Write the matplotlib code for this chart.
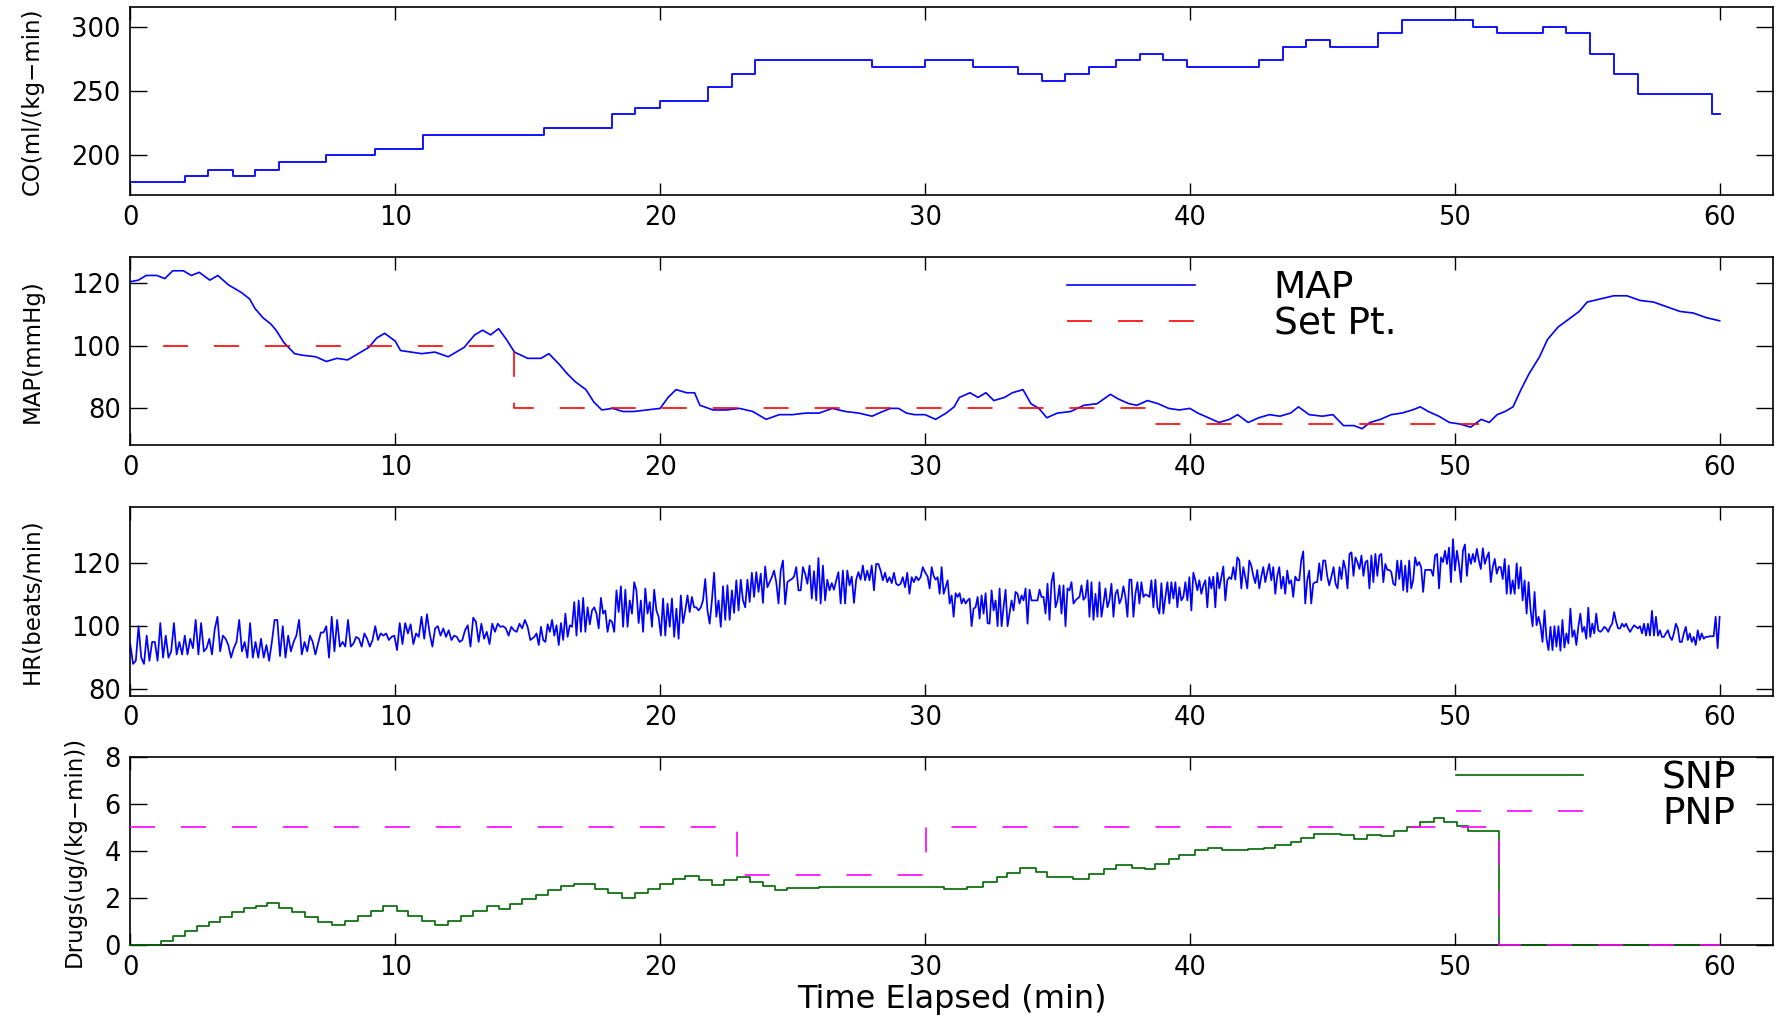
import numpy as np
import matplotlib.pyplot as plt

plt.rcParams['font.family'] = ['DejaVu Sans']
plt.rcParams['lines.scale_dashes'] = False

# --- cardiac output (step changes) ---
co_t = [0, 2.05, 2.92, 3.87, 4.69, 5.6, 7.4, 9.24, 11.04, 15.6,
        18.2, 19.07, 19.98, 21.8, 22.7, 23.6, 28.0, 30.0, 31.8, 33.5,
        34.4, 35.3, 36.2, 37.2, 38.1, 39.0, 39.9, 42.6, 43.5, 44.4,
        45.3, 47.1, 48.0, 50.7, 51.6, 53.35, 54.2, 55.1, 56.0, 56.9,
        59.7, 60.0]
co_v = [179, 184, 189, 184, 189, 195, 200, 205, 216, 221,
        232, 237, 242, 253, 263, 274, 268.5, 274, 268.5, 263,
        258, 263, 268.5, 274, 279, 274, 268.5, 274, 284, 289.5,
        284, 295, 305.5, 300, 295, 300, 295, 279, 263.5, 247.5,
        232, 232]

# --- mean arterial pressure ---
map_t = [0, 0.3, 0.6, 1.0, 1.3, 1.6, 2.0, 2.3, 2.6, 3.0, 3.3, 3.7, 4.0, 4.2, 4.5, 4.7,
         5.0, 5.3, 5.5, 5.8, 6.2, 6.5, 7.0, 7.4, 7.8, 8.2, 8.6, 9.0, 9.3, 9.6,
         10.0, 10.2, 10.6, 11.0, 11.5, 12.0, 12.2, 12.6, 13.0, 13.3, 13.6, 13.9,
         14.2, 14.5, 15.0, 15.5, 15.8, 16.2, 16.5, 16.8, 17.2, 17.5, 17.8, 18.2,
         18.6, 19.0, 19.5, 20.0, 20.3, 20.6, 21.0, 21.3, 21.5, 22.0, 22.5, 23.0,
         23.5, 24.0, 24.5, 25.0, 25.5, 26.0, 26.5, 27.0, 27.5, 28.0, 28.4, 28.7,
         29.0, 29.3, 29.6, 30.0, 30.4, 30.8, 31.1, 31.3, 31.7, 32.0, 32.3, 32.6,
         33.0, 33.3, 33.7, 34.0, 34.3, 34.6, 35.0, 35.5, 36.0, 36.5, 37.0, 37.3,
         37.7, 38.0, 38.4, 38.8, 39.2, 39.6, 40.0, 40.3, 40.7, 41.1, 41.5, 41.8,
         42.2, 42.6, 43.0, 43.4, 43.8, 44.1, 44.5, 45.0, 45.4, 45.8, 46.2, 46.5,
         46.8, 47.2, 47.6, 48.0, 48.4, 48.7, 49.0, 49.4, 49.8, 50.2, 50.6, 51.0,
         51.3, 51.6, 51.9, 52.2, 52.5, 52.8, 53.2, 53.5, 53.9, 54.3, 54.7, 55.0,
         55.5, 56.0, 56.5, 57.0, 57.5, 58.0, 58.5, 59.0, 59.5, 60.0]
map_v = [120.5, 121, 122.5, 122.5, 121.5, 124, 124, 122.5, 123.5, 121, 122.5, 119.5, 118, 117, 115, 112,
         109, 107, 105, 101, 97.5, 97, 96.5, 95, 96, 95.5, 97.5, 99.5, 102.5, 104,
         101.5, 98.5, 98, 97.5, 98, 96.5, 97.5, 99.5, 103.5, 105, 103.5, 105.5,
         102, 98, 96, 96, 97.5, 94, 91, 88.5, 86, 82, 79.5, 80,
         79, 79, 79.5, 80, 83.5, 86, 85, 85, 81, 79.5, 79.5, 80,
         79, 76.5, 78, 78, 78.5, 78.5, 80, 79, 78.5, 77.5, 79, 80,
         80, 78.5, 78, 78, 76.5, 78.5, 80.5, 83.5, 85, 83.5, 85, 82.5,
         83.5, 85, 86, 81.5, 80, 77, 78.5, 79, 81, 81.5, 84.5, 83,
         81.5, 81, 82.5, 81.5, 80, 79.5, 80, 78.5, 77, 75.5, 76.5, 78,
         75.5, 77, 78, 77.5, 78.5, 80.5, 78, 77.5, 78, 74.5, 74.5, 73.5,
         75.5, 76.5, 78, 78.5, 79.5, 80.5, 79, 77.5, 75.5, 75, 74, 76.5,
         75.5, 78, 79, 80.5, 86, 91, 96.5, 102, 106, 108.5, 111, 114,
         115, 116, 116, 114.5, 114, 112.5, 111, 110.5, 109, 108]

# set point
sp_t = [1.25, 14.5, 38.4, 50.9]
sp_v = [100, 80, 75, 75]

# --- heart rate, read in four pieces ---
hr_a = [94, 88, 89, 100, 90, 88, 97, 89, 95, 95,
        89, 101, 90, 97, 90, 92, 101, 91, 95, 91,
        97, 91, 96, 93, 102, 91, 101, 92, 93, 96,
        91, 99, 103, 92, 97, 96, 94, 90, 93, 95,
        102, 92, 95, 90, 101, 90, 95, 90, 96, 90,
        94, 89, 95, 102, 102, 90.5, 100, 90, 97, 92,
        95, 97, 102, 91, 95, 92, 97, 95, 91, 94.5,
        98, 98, 100, 90, 103, 92, 102, 93.5, 95, 93.5,
        102, 93.5, 94.5, 96.6, 96, 93.5, 97.7, 96, 93.5, 95.6,
        100, 95.6, 97.7, 97, 97.7, 95.6, 96.6, 97, 92.4, 101,
        94.3, 101, 97.7, 100.6, 94.3, 97.7, 96.6, 103, 96, 103.8,
        97.7, 93.5, 99.3, 100, 97, 99.3, 96.6, 98.7, 95.6, 97,
        96.6, 95, 95.6, 98.7, 100.3, 93.5, 102.7, 101.4, 95, 100.8,
        96, 98.2, 94.3, 100.8, 98.2, 100.8, 99.8, 100, 99.3, 97,
        99.8, 98.7, 98.2, 100.8, 99.3, 102, 99.8, 95.6]
hr_b = [96.6, 97.7, 94, 99.8, 95.6, 95, 100.6, 98.2, 102, 97,
        100.3, 94, 101, 95.6, 104, 96.6, 100.3, 99.8, 107.7, 97,
        108.2, 98.2, 109, 98.2, 106, 100.6, 105, 106, 104, 99.3,
        109, 104, 105, 98.2, 102, 101.4, 98.2, 111.4, 104.5, 112.7,
        99.8, 111.6, 99.8, 108.2, 104, 114, 111.4, 101, 108.2, 98.2,
        112, 104, 107.7, 99.8, 111.6, 105, 103, 97, 108.8, 97,
        107.2, 99.8, 108.8, 96.6, 105.6, 96, 109.8, 101, 105, 109.8,
        104.5, 109.3, 106, 106, 105, 106, 108.2, 115, 105, 100.8,
        108.2, 117, 103, 108.2, 99.8, 112.7, 102, 113, 102, 111.4,
        104.2, 114.6, 105, 114.8, 108.2, 106, 114.8, 107.7, 117, 109.3,
        117.2, 110.9, 116.7, 107.4, 119, 112.4, 114, 115.6, 117.7, 114,
        107.2, 117.7, 120.9, 107, 114, 114.6, 115, 115.8, 118.8, 111.4,
        111.4, 118.8, 116.7, 113.5, 119.3, 108.8, 117.5, 108.2, 121.7, 107.2,
        119.3, 108.2, 114.8, 111.4, 113.7, 111.6, 114.6, 117.2, 107.2, 117.7,
        107.2, 117.7, 113, 115.8, 107.4, 114.8, 117.2, 114.8, 119.3, 114.6,
        117.7, 114.6, 119.3, 111.4, 119.8, 119.8, 117.7, 114.6, 117, 114,
        115.6, 113.7, 117, 113.5, 113, 113.5, 115.6, 112.4, 117, 110.3,
        115.6, 114, 115.8, 114.6, 115.6, 118.8, 117.2]
hr_c = [115.8, 112, 118.8, 116, 114.8, 115.6, 110.3, 118.8, 110.3, 112.4,
        114.6, 107.2, 109.8, 103, 110.5, 109.3, 110.5, 107.2, 108.8, 107.2,
        108.2, 108.8, 100, 105.6, 106, 109.3, 102.4, 109.8, 104, 110.5,
        101, 100.8, 111.4, 105, 108.2, 100, 112, 100, 106, 111.6,
        100, 104, 108.2, 105, 110.9, 110.3, 107.2, 109.8, 108.2, 112,
        100.8, 111.6, 108.2, 108.2, 108.2, 108.2, 111.6, 109.3, 109.3, 104,
        113.5, 102, 114, 117, 106, 108.2, 113, 104, 113, 100,
        112, 111.4, 114, 107.2, 108.2, 108.8, 109.3, 113, 108.4, 109.3,
        114.6, 103, 114, 102, 110.3, 103, 114, 103, 107.2, 112,
        106, 108.2, 113.5, 103, 110.3, 111.6, 107.2, 108.8, 112.7, 109.3,
        103, 114.8, 114.8, 103, 110.3, 114, 107.2, 114, 109.3, 110.1,
        109.8, 109.3, 114.6, 106, 114.8, 106, 104, 113.7, 104, 109.3,
        114, 107.2, 114, 108.8, 114, 106, 112.4, 108.2, 109.3, 114,
        108.2, 115.6, 105, 117, 114.6, 111.4, 114.6, 110.3, 113, 114.6,
        106, 115.6, 112, 115.8, 106, 117, 112, 115.6, 119, 108.2,
        114.6, 115.6, 115, 118.8, 114.8, 121.9, 121, 112, 118.8, 115.6,
        112, 120.9, 119.3, 116, 113.7, 117.9, 112, 115.8, 118.8, 114,
        117.2, 119.8, 114.6, 118.8, 110.3, 116, 118.8, 112, 115.8, 110.3,
        117.7, 113.5, 114.6, 109.3, 115.8, 114.6, 114.6, 120.9, 123.8, 107.2,
        114.6, 117.7, 107.2, 113.5, 114, 114, 120, 114.6, 120.9, 120.9,
        116, 113]
hr_d = [116, 118.8, 113.5, 112, 118.8, 115, 120.9, 118.2, 112, 123,
        123.5, 116, 121.9, 120.4, 118.2, 122.5, 116, 120.4, 120.9, 112,
        122.5, 114, 123, 116, 122.5, 123, 114, 119.8, 117.9, 117.9,
        117.2, 113.5, 113, 120.9, 115, 120.9, 111.4, 119.3, 110.9, 120.9,
        112, 114.6, 121.9, 119.3, 120.4, 118.8, 110.9, 117.9, 117.9, 117.9,
        117.9, 116, 122.5, 123, 112, 121.9, 120.4, 124, 119.8, 125,
        114, 127.7, 117.7, 124, 119.8, 114, 124, 126, 116, 123,
        119.8, 123, 120.4, 124.6, 120.9, 118.2, 124.8, 119.8, 121.9, 123.5,
        114, 118.8, 121.4, 116.7, 118.8, 118.8, 115, 121.4, 110.3, 119.3,
        110.3, 114.6, 110.3, 120, 112, 118.8, 108.2, 114.6, 104, 114,
        105, 100, 110.9, 100.3, 103, 100.3, 95, 105, 96, 92.4,
        99.8, 92.4, 100, 93.5, 100, 92.2, 102, 93.2, 97.7, 94.5,
        105.6, 96.6, 98.7, 94, 99.8, 104, 98.2, 99.8, 96, 105.9,
        96.6, 100.8, 97.7, 104, 98.7, 98.2, 98.7, 99.8, 99.3, 98.2,
        99.8, 100.8, 104.5, 101.4, 99.3, 99.3, 100.8, 99.8, 100.8, 99.3,
        98.2, 99.3, 100.3, 99.8, 99.3, 100, 97.7, 100.8, 97, 100.8,
        97, 104.9, 97, 103, 97, 98.7, 96.6, 96.6, 97.7, 98.7,
        96.6, 95.6, 97.7, 100.8, 99.3, 95, 95, 97.7, 99.8, 95.6,
        97.7, 95, 96.6, 94, 98.7, 95.6, 97.7, 96, 96.6, 96.6,
        96.8, 96.8, 96.8, 103, 93, 103]
hr_span = [(0, 15.1), (15.25, 30.0), (30.1, 45.26), (45.35, 60.0)]

# --- drug infusion rates ---
snp_t = [0, 1.15, 1.6, 2.05, 2.5, 2.95, 3.4, 3.85, 4.3, 4.75,
         5.15, 5.6, 6.1, 6.6, 7.1, 7.6, 8.1, 8.6, 9.1, 9.55,
         10.05, 10.5, 11.0, 11.5, 12.0, 12.5, 12.95, 13.45, 13.9, 14.35,
         14.8, 15.3, 15.75, 16.25, 16.75, 17.55, 18.05, 18.55, 19.05, 19.55,
         20.0, 20.5, 20.95, 21.45, 21.95, 22.4, 22.9, 23.4, 23.9, 24.35,
         24.8, 26.0, 28.3, 30.7, 31.6, 32.2, 32.7, 33.1, 33.6, 34.2,
         34.6, 35.6, 36.2, 36.75, 37.2, 37.8, 38.3, 38.7, 39.2, 39.6,
         40.2, 40.7, 41.2, 42.2, 42.8, 43.2, 43.8, 44.2, 44.7, 45.7,
         46.2, 46.7, 47.2, 47.7, 48.2, 48.7, 49.2, 49.6, 50.1, 50.5,
         51.0, 51.66, 60]
snp_v = [0, 0.2, 0.4, 0.6, 0.8, 1.0, 1.2, 1.4, 1.6, 1.65,
         1.8, 1.6, 1.4, 1.2, 1.0, 0.85, 1.05, 1.25, 1.45, 1.65,
         1.45, 1.25, 1.05, 0.85, 1.05, 1.25, 1.45, 1.65, 1.55, 1.75,
         1.95, 2.15, 2.35, 2.5, 2.6, 2.4, 2.2, 2.0, 2.2, 2.4,
         2.6, 2.8, 2.95, 2.75, 2.55, 2.75, 2.9, 2.7, 2.5, 2.35,
         2.45, 2.47, 2.46, 2.39, 2.46, 2.67, 2.88, 3.06, 3.26, 3.09,
         2.88, 2.81, 3.02, 3.23, 3.41, 3.3, 3.23, 3.44, 3.65, 3.83,
         4.03, 4.14, 4.04, 4.07, 4.14, 4.24, 4.39, 4.56, 4.73, 4.7,
         4.49, 4.67, 4.63, 4.84, 5.0, 5.23, 5.4, 5.23, 5.05, 4.84,
         4.84, 0, 0]
pnp_t = [0, 22.9, 30.05, 51.66, 60]
pnp_v = [5, 3, 5, 0, 0]

xticks = [0, 10, 20, 30, 40, 50, 60]
dash = (0, (18, 18.7))


def style(ax, ylim, yticks, ylabel, label_x):  # matlab-ish boxed axes
    ax.set_xlim(0, 62)
    ax.set_xticks(xticks)
    ax.set_ylim(*ylim)
    ax.set_yticks(yticks)
    ax.tick_params(axis='x', direction='in', top=True, length=9, width=1, pad=7, labelsize=18.5)
    ax.tick_params(axis='y', direction='in', right=True, length=12, width=1, pad=7, labelsize=18.5)
    ax.set_ylabel(ylabel, fontsize=16.5)
    ax.yaxis.set_label_coords(label_x, 0.5)
    for s in ax.spines.values():
        s.set_linewidth(1.2)


fig = plt.figure(figsize=(17.86, 10.19), dpi=100)
left, width, height = 0.073, 0.9195, 0.1851
ax1 = fig.add_axes([left, 0.8083, width, height])
ax2 = fig.add_axes([left, 0.5630, width, height])
ax3 = fig.add_axes([left, 0.3173, width, height])
ax4 = fig.add_axes([left, 0.0723, width, height])

leg_kw = dict(loc='center left', fontsize=27, frameon=False, handlelength=3.4,
              handletextpad=2.1, labelspacing=0, borderpad=0, borderaxespad=0)

# CO
ax1.step(co_t, co_v, where='post', color='blue', lw=1.3)
style(ax1, (169, 315.7), [200, 250, 300], 'CO(ml/(kg\u2212min)', -0.053)

# MAP + set point
ax2.plot(map_t, map_v, color='blue', lw=1.2, label='MAP')
ax2.step(sp_t, sp_v, where='post', color='red', lw=1.2, ls=dash, label='Set Pt.')
style(ax2, (68.2, 128.5), [80, 100, 120], 'MAP(mmHg)', -0.053)
ax2.legend(bbox_to_anchor=(0.5705, 0.738), **leg_kw)

# HR
hr_t = np.concatenate([np.linspace(a, b, len(s)) for (a, b), s in zip(hr_span, [hr_a, hr_b, hr_c, hr_d])])
hr = np.concatenate([hr_a, hr_b, hr_c, hr_d])
ax3.plot(hr_t, hr, color='blue', lw=1.25)
style(ax3, (77.9, 137.9), [80, 100, 120], 'HR(beats/min)', -0.053)

# drugs (drawn over the bottom spine so the zero line shows)
ax4.step(snp_t, snp_v, where='post', color=(0, 0.4, 0), lw=1.2, label='SNP', zorder=3, clip_on=False)
ax4.step(pnp_t, pnp_v, where='post', color='magenta', lw=1.2, ls=dash, label='PNP', zorder=3, clip_on=False)
style(ax4, (0, 8), [0, 2, 4, 6, 8], 'Drugs(ug/(kg\u2212min))', -0.0273)
ax4.legend(bbox_to_anchor=(0.807, 0.791), **leg_kw)
ax4.set_xlabel('Time Elapsed (min)', fontsize=23, labelpad=2)

fig.savefig('out.png', dpi=100)
